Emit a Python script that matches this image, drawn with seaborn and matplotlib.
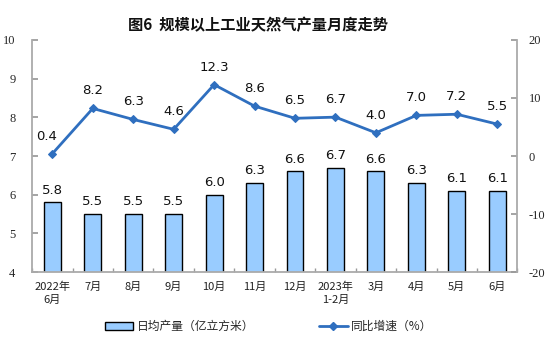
import numpy as np
import pandas as pd
import matplotlib
matplotlib.use("Agg")
import matplotlib.pyplot as plt
import seaborn as sns
from matplotlib.lines import Line2D
from matplotlib.patches import Patch

months = ["2022年\n6月", "7月", "8月", "9月", "10月", "11月", "12月",
          "2023年\n1-2月", "3月", "4月", "5月", "6月"]
daily_output = [5.8, 5.5, 5.5, 5.5, 6.0, 6.3, 6.6, 6.7, 6.6, 6.3, 6.1, 6.1]
yoy_growth = [0.4, 8.2, 6.3, 4.6, 12.3, 8.6, 6.5, 6.7, 4.0, 7.0, 7.2, 5.5]
left_ticks = [4, 5, 6, 7, 8, 9, 10]
right_ticks = [-20, -10, 0, 10, 20]

sns.set_theme(style="white")
plt.rcParams['font.family'] = ['Noto Sans CJK SC', 'DejaVu Sans']

df = pd.DataFrame({"month": months, "output": daily_output,
                   "growth": yoy_growth, "pos": np.arange(len(months))})

fig = plt.figure(figsize=(5.54, 3.57), dpi=100)
ax = fig.add_axes([0.058, 0.238, 0.876, 0.65])

bar_color = "#99CCFF"
line_color = "#2F6FBF"

sns.barplot(data=df, x="month", y="output", color=bar_color, width=0.42,
            edgecolor="black", linewidth=1.0, saturation=1, ax=ax)
ax.set_ylim(4, 10)
ax.set_yticks(left_ticks)
ax.set_yticklabels([str(t) for t in left_ticks], family="Liberation Serif",
                   fontsize=9)
ax.set_xlim(-0.5, len(months) - 0.5)
ax.set_xlabel("")
ax.set_ylabel("")
ax.set_xticks(range(len(months)))
ax.set_xticklabels(months, fontsize=8, color="#222222", linespacing=1.3)
ax.tick_params(axis="x", length=0, pad=7)
ax.tick_params(axis="y", length=4, color="#999999", pad=12, direction="in", left=True)
ax.set_xticks(np.arange(-0.5, len(months), 1), minor=True)
ax.tick_params(axis="x", which="minor", length=3, color="#999999", bottom=True, direction="in")

for s in ["top", "right"]:
    ax.spines[s].set_visible(False)
for s in ["left", "bottom"]:
    ax.spines[s].set_color("#aaaaaa")
    ax.spines[s].set_linewidth(1.3)

for i, v in enumerate(daily_output):
    ax.text(i, v + 0.15, f"{v:.1f}", ha="center", va="bottom", fontsize=9.5,
            family="DejaVu Sans", color="#111111")

ax2 = ax.twinx()
sns.lineplot(data=df, x="pos", y="growth", color=line_color, linewidth=2,
             marker="D", markersize=4, markeredgecolor=line_color, ax=ax2)
ax2.set_ylim(-20, 20)
ax2.set_yticks(right_ticks)
ax2.set_yticklabels([str(t) for t in right_ticks], family="Liberation Serif",
                    fontsize=9)
ax2.set_xlim(-0.5, len(months) - 0.5)
ax2.set_xlabel("")
ax2.set_ylabel("")
ax2.tick_params(axis="y", length=4, color="#999999", pad=8, direction="in", right=True)
for s in ["top", "left", "bottom"]:
    ax2.spines[s].set_visible(False)
ax2.spines["right"].set_color("#aaaaaa")
ax2.spines["right"].set_linewidth(1.3)

for i, v in enumerate(yoy_growth):
    ax2.text(i - (0.15 if i == 0 else 0), v + 1.9, f"{v:.1f}", ha="center",
             va="bottom", fontsize=9.5, family="DejaVu Sans", color="#111111")

fig.text(0.465, 0.93, "图6  规模以上工业天然气产量月度走势", ha="center", va="center",
         fontsize=11, fontweight="bold", color="#111111")

handles = [Patch(facecolor=bar_color, edgecolor="black", linewidth=1.0),
           Line2D([0], [0], color=line_color, linewidth=2, marker="D", markersize=4)]
fig.legend(handles, ["日均产量（亿立方米）", "同比增速（%）"], loc="center",
           bbox_to_anchor=(0.485, 0.085), ncol=2, frameon=False, fontsize=8.5,
           columnspacing=5.5, handlelength=2.4, handleheight=0.6, handletextpad=0.3)

fig.savefig("out.png", dpi=100)
